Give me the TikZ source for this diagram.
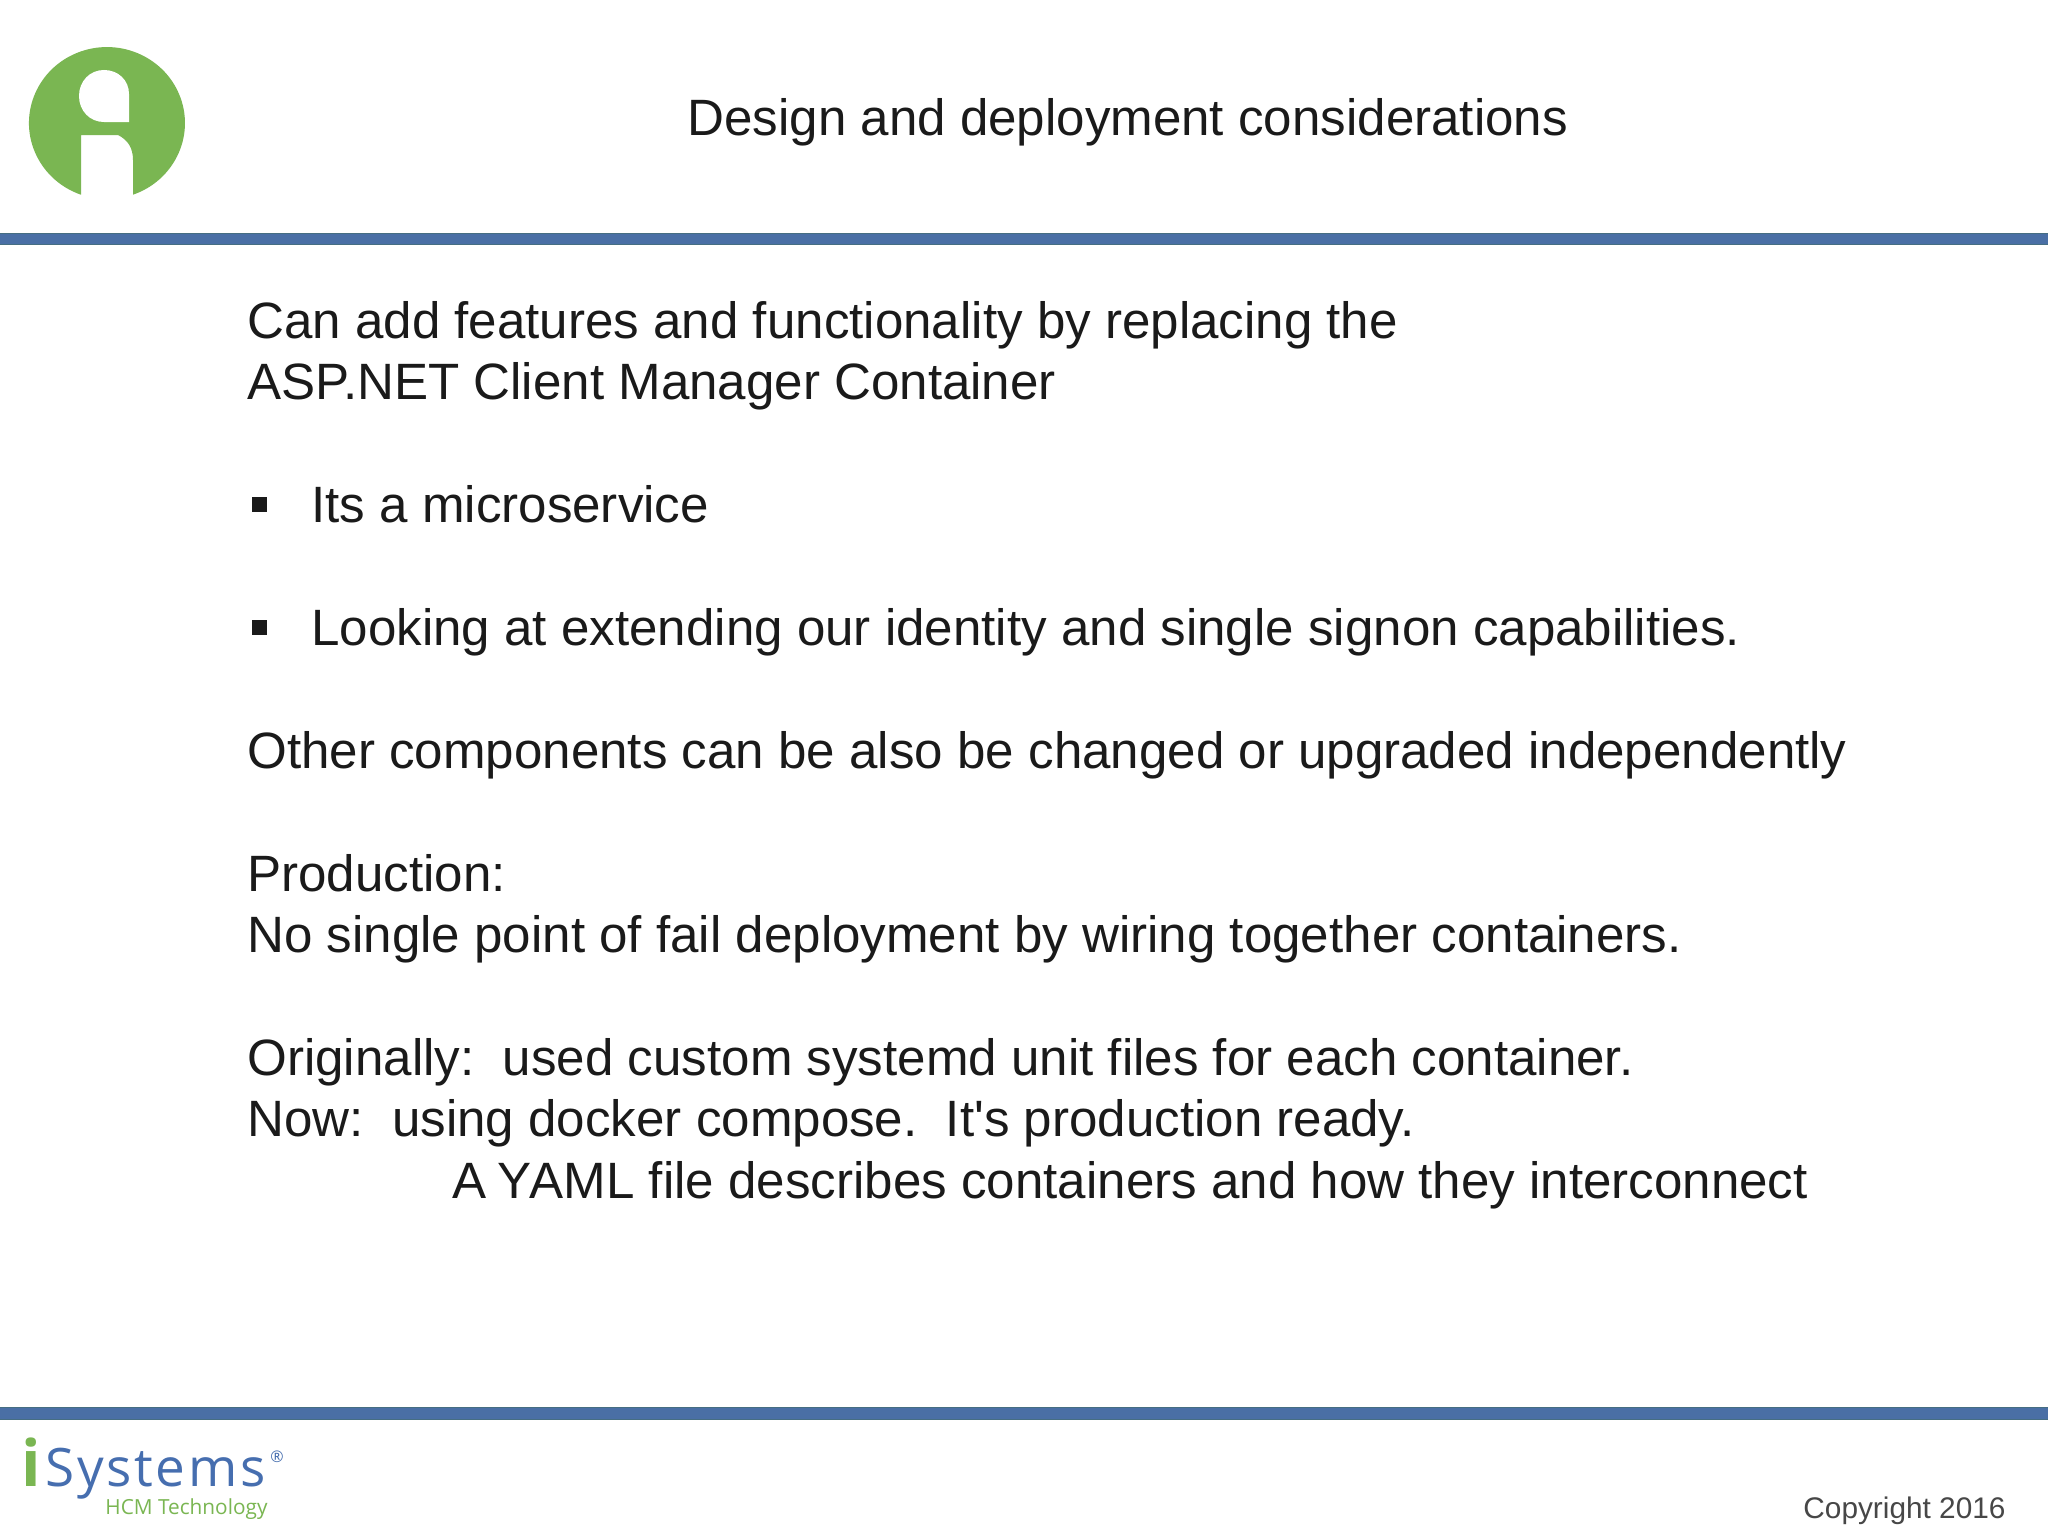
\documentclass[tikz,border=0pt]{standalone}
\usepackage{fontspec}
\setmainfont{Liberation Sans}[Ligatures=TeXOff]
\newfontfamily\logofont{Open Sans}
\newfontfamily\logowide{Open Sans}[LetterSpace=5]
\definecolor{barblue}{RGB}{74, 111, 165}
\definecolor{baredge}{RGB}{70, 110, 130}
\definecolor{logogreen}{RGB}{122, 182, 82}
\definecolor{logoblue}{RGB}{70, 110, 175}
\definecolor{bodyblack}{RGB}{26, 26, 26}
\colorlet{copygray}{black!72}
\begin{document}
\begin{tikzpicture}[x=0.5pt, y=-0.5pt,
    line/.style={anchor=base west, inner sep=0pt, text=bodyblack,
                 font=\fontsize{25.55}{32}\selectfont},
    bullet/.style={fill=bodyblack, inner sep=0pt, minimum size=7.5pt},
    bar/.style={fill=barblue, draw=baredge, line width=0.5pt},
    logotext/.style={anchor=base west, inner sep=0pt}]
  \useasboundingbox (0,0) rectangle (2048,1536);
  \fill [white] (0,0) rectangle (2048,1536);
  % top and bottom
  \draw [bar] (-2,233) rectangle (2050,244);
  \draw [bar] (-2,1407) rectangle (2050,1419);
  % round logo
  \fill [logogreen] (81,194.7) -- (81,135)
        -- (118,135) .. controls (128,140) and (133,148) .. (133,160)
        -- (133,194.7) arc (70.5:-250.5:78 and 76) -- cycle;
  \fill [white] (129,122) -- (129,94) .. controls (129,80) and (118,70) .. (104,70)
        .. controls (90,70) and (79,81) .. (79,96)
        .. controls (79,111) and (90,122) .. (104,122) -- cycle;
  \node [line] (title) at (687,135) {Design and deployment considerations};
  \node [line] (can) at (247,338) {Can add features and functionality by replacing the};
  \node [line] (asp) at (247,399) {ASP.NET Client Manager Container};
  \node [line] (micro) at (311,522) {Its a microservice};
  \node [line] (extend) at (311,645) {Looking at extending our identity and single signon capabilities.};
  \node [bullet] (microdot) at (259,504) {};
  \node [bullet] (extenddot) at (259,627) {};
  \node [line] (other) at (247,768) {Other components can be also be changed or upgraded independently};
  \node [line] (prod) at (247,891) {Production:};
  \node [line] (nofail) at (247,952) {No single point of fail deployment by wiring together containers.};
  \node [line] (orig) at (247,1075) {Originally:\ \ used custom systemd unit files for each container.};
  \node [line] (now) at (247,1136) {Now:\ \ using docker compose.\ \ It's production ready.};
  \node [line] (yaml) at (452,1198) {A\kern-1.5pt\ Y\kern-1pt AML file describes containers and how they interconnect};
  % isystems logo
  \node [logotext, text=logogreen, font=\logofont\bfseries\fontsize{32}{36}\selectfont] (logoi) at (21,1486) {i};
  \node [logotext, text=logoblue, font=\logowide\fontsize{26.5}{30}\selectfont] (logosys) at (45,1486) {Systems};
  \node [logotext, text=logoblue, font=\logofont\fontsize{8}{9}\selectfont] (logoreg) at (270,1462) {®};
  \node [logotext, text=logogreen, font=\logofont\fontsize{10.4}{13}\selectfont] (logohcm) at (105,1514) {HCM Technology};
  \node [logotext, text=copygray, font=\fontsize{14.9}{18}\selectfont] (copy) at (1803,1518) {Copyright 2016};
\end{tikzpicture}
\end{document}
